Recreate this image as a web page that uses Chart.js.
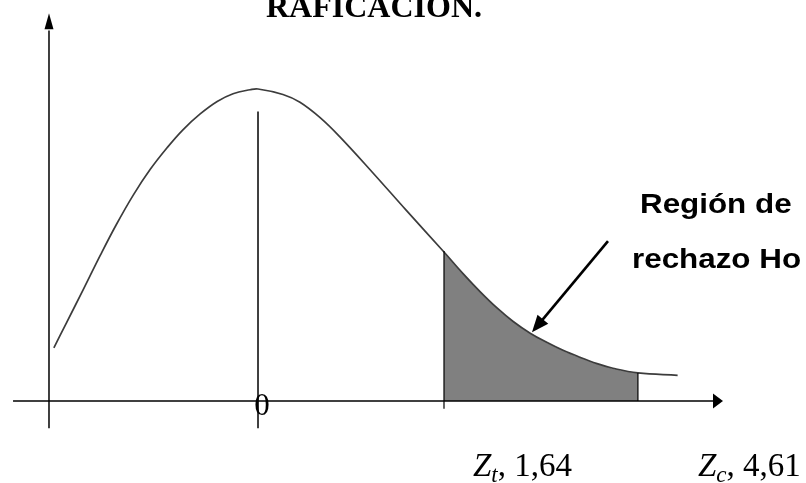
<!DOCTYPE html>
<html>
<head>
<meta charset="utf-8">
<script src="https://cdn.jsdelivr.net/npm/chart.js@4.4.1/dist/chart.umd.min.js"></script>
<style>
  html, body { margin: 0; padding: 0; background: #fff; }
  #chart { display: block; }
</style>
</head>
<body>
<canvas id="chart" width="806" height="483"></canvas>
<script>
// Curve: z along the axis, curve height above it
const curveZ = [-1.8, -1.69, -1.54, -1.39, -1.25, -1.1, -0.95, -0.8, -0.66, -0.51, -0.36, -0.22, -0.07, 0,
    0.22, 0.37, 0.55, 0.72, 1.01, 1.31, 1.64, 1.81, 1.96, 2.11, 2.25, 2.4, 2.55, 2.69, 2.84, 2.99, 3.13, 3.35, 3.7];
const curveHeight = [0.068, 0.100, 0.143, 0.187, 0.226, 0.264, 0.297, 0.325, 0.348, 0.368, 0.384, 0.394, 0.399, 0.400,
    0.393, 0.383, 0.363, 0.339, 0.293, 0.244, 0.191, 0.163, 0.140, 0.119, 0.102, 0.087, 0.075, 0.065, 0.056, 0.048, 0.042, 0.036, 0.033];

// Rejection region (shaded) runs from the critical value to the end of the shading
const criticalZ = 1.64;
const tailEndZ = 3.35;

// Texts
const titleText = "RAFICACION.";
const centerTick = "0";
const regionLines = ["Región de", "rechazo Ho"];
const zSubscripts = ["t", "c"];
const zValues = ["1,64", "4,61"];

const curvePoints = curveZ.map((z, i) => ({ x: z, y: curveHeight[i] }));
const tailPoints = curvePoints.filter(p => p.x >= criticalZ && p.x <= tailEndZ);

function heightAt(z) {
    return curveHeight[curveZ.indexOf(z)];
}

function arrowHead(ctx, x1, y1, x2, y2, len, half) {
    const a = Math.atan2(y2 - y1, x2 - x1);
    ctx.beginPath();
    ctx.moveTo(x2, y2);
    ctx.lineTo(x2 - len * Math.cos(a) + half * Math.sin(a), y2 - len * Math.sin(a) - half * Math.cos(a));
    ctx.lineTo(x2 - len * Math.cos(a) - half * Math.sin(a), y2 - len * Math.sin(a) + half * Math.cos(a));
    ctx.closePath();
    ctx.fill();
}

// Axes, guide lines, labels and the pointer arrow
const sketchPlugin = {
    id: "sketch",
    afterDatasetsDraw(chart) {
        const ctx = chart.ctx;
        const px = v => chart.scales.x.getPixelForValue(v);
        const py = v => chart.scales.y.getPixelForValue(v);
        ctx.save();
        ctx.strokeStyle = "#000";
        ctx.fillStyle = "#000";
        ctx.lineWidth = 1.5;

        // y axis with arrow
        const yAxisX = px(-1.843);
        ctx.beginPath();
        ctx.moveTo(yAxisX, py(-0.035));
        ctx.lineTo(yAxisX, py(0.475));
        ctx.stroke();
        arrowHead(ctx, yAxisX, py(0), yAxisX, py(0.497), 16, 4.5);

        // x axis with arrow
        const axisY = py(0);
        ctx.beginPath();
        ctx.moveTo(px(-2.16), axisY);
        ctx.lineTo(px(4.03), axisY);
        ctx.stroke();
        arrowHead(ctx, px(0), axisY, px(4.1), axisY, 10, 7.5);

        // centre line
        ctx.beginPath();
        ctx.moveTo(px(0), py(-0.035));
        ctx.lineTo(px(0), py(0.371));
        ctx.stroke();

        // critical value line and end of shading
        ctx.lineWidth = 1.2;
        ctx.beginPath();
        ctx.moveTo(px(criticalZ), py(-0.01));
        ctx.lineTo(px(criticalZ), py(heightAt(criticalZ)) - 1);
        ctx.moveTo(px(tailEndZ), axisY);
        ctx.lineTo(px(tailEndZ), py(heightAt(tailEndZ)));
        ctx.stroke();

        // pointer arrow
        const ax1 = px(3.086), ay1 = py(0.205), ax2 = px(2.416), ay2 = py(0.088);
        const a = Math.atan2(ay2 - ay1, ax2 - ax1);
        ctx.lineWidth = 2.6;
        ctx.beginPath();
        ctx.moveTo(ax1, ay1);
        ctx.lineTo(ax2 - 12 * Math.cos(a), ay2 - 12 * Math.sin(a));
        ctx.stroke();
        arrowHead(ctx, ax1, ay1, ax2, ay2, 17, 7);

        // title (cut at the top edge)
        ctx.font = "bold 32px 'Liberation Serif'";
        ctx.textAlign = "center";
        ctx.textBaseline = "alphabetic";
        ctx.fillText(titleText, 374, 17);

        // centre tick label
        ctx.font = "31px 'Liberation Serif'";
        ctx.fillText(centerTick, px(0) + 4, 415);

        // region text
        ctx.font = "bold 28px 'Liberation Sans'";
        ctx.textAlign = "left";
        const regionAt = [[640, 213], [632, 268]];
        regionLines.forEach((t, i) => {
            ctx.save();
            ctx.translate(regionAt[i][0], regionAt[i][1]);
            ctx.scale(1.12, 1);
            ctx.fillText(t, 0, 0);
            ctx.restore();
        });

        // Z labels
        const zLabelAt = [473, 698];
        zSubscripts.forEach((s, i) => {
            let x = zLabelAt[i];
            const base = 476;
            ctx.font = "italic 33px 'Liberation Serif'";
            ctx.fillText("Z", x, base);
            x += ctx.measureText("Z").width;
            ctx.font = "italic 23px 'Liberation Serif'";
            ctx.fillText(s, x, base + 6);
            x += ctx.measureText(s).width;
            ctx.font = "33px 'Liberation Serif'";
            ctx.fillText(", " + zValues[i], x, base);
        });
        ctx.restore();
    }
};

new Chart(document.getElementById("chart"), {
    type: "scatter",
    data: {
        datasets: [
            {
                label: "curva",
                data: curvePoints,
                showLine: true,
                borderColor: "#3c3c3c",
                borderWidth: 1.7,
                pointRadius: 0,
                tension: 0.4,
                fill: false
            },
            {
                label: "rechazo",
                data: tailPoints,
                showLine: true,
                borderColor: "rgba(255,255,255,0.85)",
                borderWidth: 1,
                borderDash: [1, 2],
                backgroundColor: "#808080",
                pointRadius: 0,
                tension: 0.4,
                fill: "origin"
            }
        ]
    },
    options: {
        responsive: false,
        animation: false,
        layout: { padding: 0 },
        plugins: {
            legend: { display: false },
            tooltip: { enabled: false },
            title: { display: false }
        },
        scales: {
            x: { type: "linear", display: false, min: -2.275, max: 4.832 },
            y: { type: "linear", display: false, min: -0.1051, max: 0.5141 }
        }
    },
    plugins: [sketchPlugin]
});
</script>
</body>
</html>
